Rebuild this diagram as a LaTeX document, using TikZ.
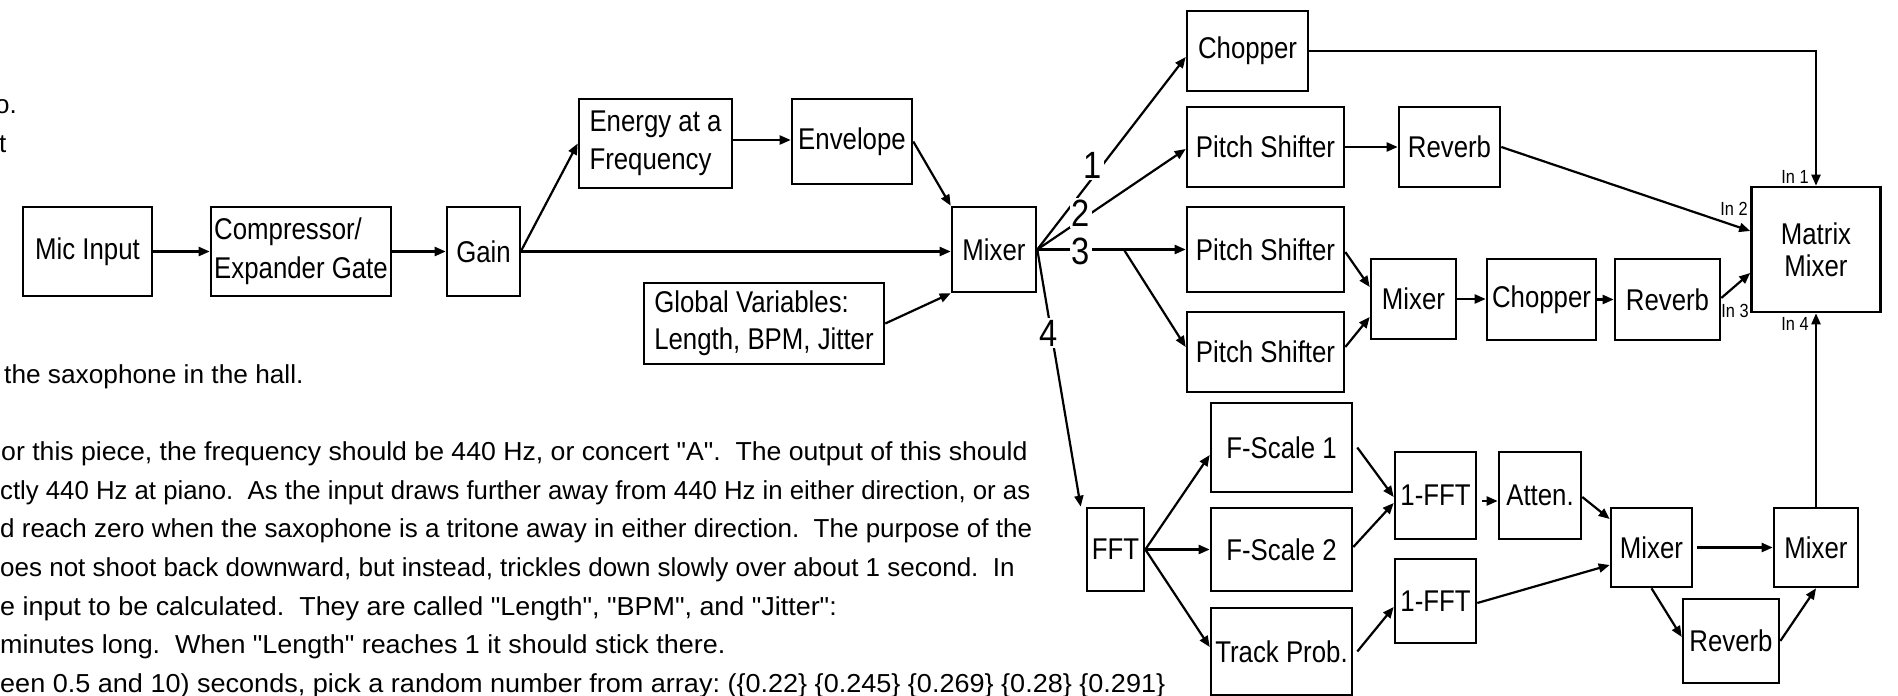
\documentclass[tikz,border=0pt]{standalone}
\usepackage{fontspec}
\setmainfont{Liberation Sans}
\newfontfamily\bodyfamily[Ligatures=TeXOff]{Liberation Sans}
\newfontfamily\diagfamily[FakeStretch=0.86]{Liberation Sans}
\usetikzlibrary{arrows.meta,calc}
\newcommand\sq{\symbol{34}}
\tikzset{
  blk/.style={draw, line width=2.6pt, inner sep=0pt, align=center,
    font=\diagfamily\fontsize{30}{36}\selectfont},
  conn/.style={line width=2.2pt, -{Triangle[length=11pt,width=9pt]}},
  num/.style={font=\diagfamily\fontsize{38}{40}\selectfont, fill=white, inner sep=2pt},
  inl/.style={font=\diagfamily\fontsize{19}{20}\selectfont, inner sep=0pt},
  body/.style={font=\bodyfamily\fontsize{26}{38.8}\selectfont, inner sep=0pt, anchor=base west},
  wide/.style={xscale=#1, transform shape},
}
\frenchspacing
\begin{document}
\begin{tikzpicture}[x=1pt,y=-1pt]
\useasboundingbox (0,0) rectangle (1898,696);

% ---- body text fragments ----
\node[body] (t0a) at (-5,113) {o.};
\node[body] (t0b) at (-1,152) {t};
\node[body, wide=1.01] (t1) at (4,383) {the saxophone in the hall.};
\node[body, wide=1.025] (t2) at (1,460) {or this piece, the frequency should be 440 Hz, or concert \sq A\sq.\ \ The output of this should};
\node[body, wide=0.99] (t3) at (0,499) {ctly 440 Hz at piano.\ \ As the input draws further away from 440 Hz in either direction, or as};
\node[body] (t4) at (0,537.5) {d reach zero when the saxophone is a tritone away in either direction.\ \ The purpose of the};
\node[body] (t5) at (0,576) {oes not shoot back downward, but instead, trickles down slowly over about 1 second.\ \ In};
\node[body, wide=1.035] (t6) at (0,615) {e input to be calculated.\ \ They are called \sq Length\sq, \sq BPM\sq, and \sq Jitter\sq:};
\node[body, wide=1.035] (t7) at (0,653.5) {minutes long.\ \ When \sq Length\sq\ reaches 1 it should stick there.};
\node[body, wide=1.04] (t8) at (0,692) {een 0.5 and 10) seconds, pick a random number from array: (\{0.22\} \{0.245\} \{0.269\} \{0.28\} \{0.291\}};

% ---- blocks ----
\node[blk, minimum width=129pt, minimum height=89pt] (mic) at (87.5,251.5) {Mic Input};
\node[blk, minimum width=180pt, minimum height=89pt, align=left,
  font=\diagfamily\fontsize{30}{39}\selectfont] (comp) at (301,251.5) {Compressor/\\Expander Gate};
\node[blk, minimum width=73pt, minimum height=89pt] (gain) at (483.5,251.5) {Gain};
\node[blk, minimum width=153pt, minimum height=89pt, align=left,
  font=\diagfamily\fontsize{30}{38}\selectfont] (energy) at (655.5,143.5) {Energy at a\\Frequency};
\node[blk, minimum width=120pt, minimum height=85pt] (envelope) at (852,141.5) {Envelope};
\node[blk, minimum width=84pt, minimum height=85pt] (mixer) at (994,249.5) {Mixer};
\node[blk, minimum width=240pt, minimum height=81pt, align=left,
  font=\diagfamily\fontsize{30}{37}\selectfont] (global) at (764,323.5) {Global Variables:\\Length, BPM, Jitter};

\node[blk, minimum width=121pt, minimum height=80pt] (chopper) at (1247.5,51) {Chopper};
\node[blk, minimum width=157pt, minimum height=80pt] (ps1) at (1265.5,147) {Pitch Shifter};
\node[blk, minimum width=101pt, minimum height=80pt] (rev1) at (1449.5,147) {Reverb};
\node[blk, minimum width=157pt, minimum height=85pt] (ps2) at (1265.5,249.5) {Pitch Shifter};
\node[blk, minimum width=157pt, minimum height=80pt] (ps3) at (1265.5,352) {Pitch Shifter};
\node[blk, minimum width=85pt, minimum height=80pt] (mixer2) at (1413.5,299) {Mixer};
\node[blk, minimum width=109pt, minimum height=81pt] (chopper2) at (1541.5,299.5) {Chopper};
\node[blk, minimum width=105pt, minimum height=81pt] (rev2) at (1667.5,299.5) {Reverb};
\node[blk, minimum width=129pt, minimum height=125pt,
  font=\diagfamily\fontsize{30}{32}\selectfont] (matrix) at (1816,249.5) {Matrix\\Mixer};

\node[blk, minimum width=57pt, minimum height=83pt] (fft) at (1115.5,549.5) {FFT};
\node[blk, minimum width=141pt, minimum height=89pt] (fs1) at (1281.5,447.5) {F-Scale 1};
\node[blk, minimum width=141pt, minimum height=83pt] (fs2) at (1281.5,549.5) {F-Scale 2};
\node[blk, minimum width=141pt, minimum height=87pt] (track) at (1281.5,651.5) {Track Prob.};
\node[blk, minimum width=81pt, minimum height=87pt] (ifft1) at (1435.5,495.5) {1-FFT};
\node[blk, minimum width=81pt, minimum height=84pt] (ifft2) at (1435.5,601) {1-FFT};
\node[blk, minimum width=82pt, minimum height=87pt] (atten) at (1540,495.5) {Atten.};
\node[blk, minimum width=81pt, minimum height=79pt] (mixer3) at (1651.5,547.5) {Mixer};
\node[blk, minimum width=84pt, minimum height=79pt] (mixer4) at (1816,547.5) {Mixer};
\node[blk, minimum width=96pt, minimum height=84pt] (rev3) at (1731,641) {Reverb};

% ---- connectors, left part ----
\draw[conn] (mic) -- (comp);
\draw[conn] (comp) -- (gain);
\draw[conn] (gain.east) -- (gain.east -| mixer.west);
\draw[conn] ([yshift=1pt]gain.east) -- (energy.west);
\draw[conn] ([yshift=3.5pt]energy.east) -- ([yshift=3.5pt]energy.east -| envelope.west);
\draw[conn] (envelope.east) -- (mixer.north west);
\draw[conn] (global.east) -- (mixer.south west);

% ---- outputs of main mixer ----
\draw[conn] (mixer.east) -- ([yshift=-6pt]chopper.west);
\draw[conn] (mixer.east) -- ([yshift=-2pt]ps1.west);
\draw[conn] (mixer.east) -- (mixer.east -| ps2.west);
\coordinate (br) at ($(mixer.east)!0.583!(mixer.east -| ps2.west)$);
\draw[conn] (br) -- ([yshift=5pt]ps3.west);
\draw[conn] (mixer.east) -- ([xshift=-5pt]fft.north west);
\node[num] (n1) at (1093,165) {1};
\node[num] (n2) at (1081,213) {2};
\node[num] (n3) at (1081,251) {3};
\node[num] (n4) at (1049,333) {4};

% ---- upper right ----
\draw[conn] (chopper.east) -| (matrix.north);
\draw[conn] (ps1) -- (rev1);
\draw[conn] (rev1.east) -- ([yshift=18.5pt]matrix.west);
\draw[conn] ([yshift=-2.5pt]ps2.east) -- ([yshift=12pt]mixer2.west);
\draw[conn] ([yshift=5pt]ps3.east) -- ([yshift=-18pt]mixer2.west);
\draw[conn] (mixer2.east) -- (mixer2.east -| chopper2.west);
\draw[conn] (chopper2) -- (rev2);
\draw[conn] ([yshift=1.5pt]rev2.east) -- ([yshift=-23.5pt]matrix.west);
\draw[conn] (mixer4.north) -- (mixer4.north |- matrix.south);
\node[inl] (in1) at (1795,177) {In 1};
\node[inl] (in2) at (1734,209) {In 2};
\node[inl] (in3) at (1735,311) {In 3};
\node[inl] (in4) at (1795,324) {In 4};

% ---- lower right ----
\draw[conn] (fft.east) -- ([yshift=-7.5pt]fs1.west);
\draw[conn] (fft.east) -- (fft.east -| fs2.west);
\draw[conn] (fft.east) -- ([yshift=4.5pt]track.west);
\draw[conn] ([xshift=4pt]fs1.east) -- ([yshift=-1.5pt]ifft1.west);
\draw[conn] ([yshift=2.5pt]fs2.east) -- ([yshift=-7.5pt]ifft1.west);
\draw[conn] ([xshift=4pt]track.east) -- ([yshift=-6pt]ifft2.west);
\draw[conn] ([xshift=5pt,yshift=-5.5pt]ifft1.east) -- ([yshift=-5.5pt]atten.west);
\draw[conn] ([yshift=-1.5pt]atten.east) -- ([yshift=28.5pt]mixer3.west);
\draw[conn] ([yshift=-2pt]ifft2.east) -- ([yshift=-17.5pt]mixer3.west);
\draw[conn] ([xshift=4pt]mixer3.east) -- (mixer3.east -| mixer4.west);
\draw[conn] (mixer3.south) -- ([yshift=4pt]rev3.west);
\draw[conn] (rev3.east) -- (mixer4.south);
\end{tikzpicture}
\end{document}
